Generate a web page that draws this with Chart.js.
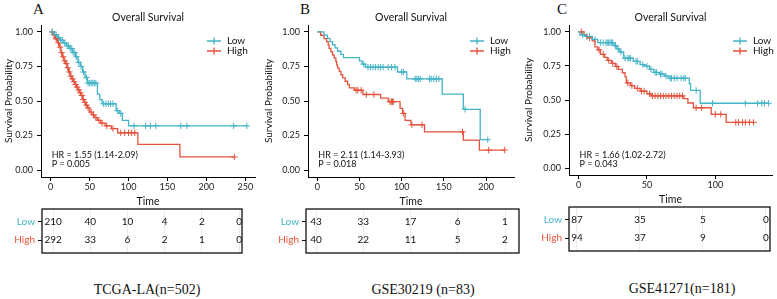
<!DOCTYPE html>
<html>
<head>
<meta charset="utf-8">
<script src="https://cdn.jsdelivr.net/npm/chart.js@4.4.1/dist/chart.umd.min.js"></script>
<style>
  body { margin: 0; background: #fff; width: 777px; height: 299px; position: relative; overflow: hidden; }
  canvas { position: absolute; }
  .tag { position: absolute; font-family: "Liberation Serif", serif; font-size: 15px; color: #111; line-height: 1; }
  .cap { position: absolute; font-family: "Liberation Serif", serif; font-size: 14px; color: #111; transform: translate(-50%, -50%); white-space: nowrap; }
</style>
</head>
<body>
<div class="tag" style="left:33px;top:2px">A</div>
<div class="tag" style="left:300px;top:2px">B</div>
<div class="tag" style="left:557px;top:2px">C</div>

<canvas id="tabA" style="left:0;top:200px" width="260" height="62"></canvas>
<canvas id="tabB" style="left:260px;top:200px" width="260" height="62"></canvas>
<canvas id="tabC" style="left:520px;top:198px" width="257" height="62"></canvas>
<canvas id="kmA" style="left:0;top:0" width="260" height="212"></canvas>
<canvas id="kmB" style="left:260px;top:0" width="260" height="212"></canvas>
<canvas id="kmC" style="left:520px;top:0" width="257" height="210"></canvas>

<div class="cap" style="left:147px;top:290px">TCGA-LA(n=502)</div>
<div class="cap" style="left:423px;top:290px">GSE30219 (n=83)</div>
<div class="cap" style="left:682px;top:289px">GSE41271(n=181)</div>

<script>
const groups = ['Low', 'High'];
const yTicks = [0, 0.25, 0.5, 0.75, 1];

// A - TCGA-LA
const xTicksA = [0, 50, 100, 150, 200, 250];
const timeLowA = [0, 4, 8, 12, 16, 20, 24, 28, 32, 35, 38, 41, 44, 47, 60, 63, 66, 84, 88, 92, 100];
const survLowA = [1.00, 0.98, 0.96, 0.94, 0.92, 0.90, 0.88, 0.85, 0.82, 0.78, 0.75, 0.71, 0.67, 0.63, 0.55, 0.51, 0.48, 0.43, 0.41, 0.36, 0.32];
const censLowA = [2, 5, 7, 10, 13, 15, 18, 21, 23, 25, 27, 29, 31, 33, 36, 39, 42, 46, 48, 50, 52, 54, 56, 58, 68, 71, 74, 77, 80, 86, 90, 107, 122, 128, 135, 167, 175, 235, 252];
const timeHighA = [0, 3, 6, 9, 11, 13, 15, 17, 19, 21, 23, 25, 27, 29, 31, 33, 35, 37, 39, 41, 43, 45, 47, 50, 53, 56, 60, 64, 70, 78, 86, 112, 166];
const survHighA = [1.00, 0.98, 0.95, 0.92, 0.89, 0.85, 0.82, 0.79, 0.77, 0.74, 0.71, 0.68, 0.66, 0.64, 0.62, 0.60, 0.58, 0.56, 0.54, 0.51, 0.49, 0.47, 0.45, 0.42, 0.40, 0.38, 0.36, 0.34, 0.32, 0.30, 0.27, 0.186, 0.095];
const censHighA = [2, 4, 5, 7, 8, 10, 12, 14, 16, 18, 20, 22, 24, 26, 28, 30, 32, 34, 36, 38, 40, 42, 44, 46, 48, 52, 55, 58, 62, 66, 72, 80, 90, 95, 100, 104, 108, 236];
const tableTimesA = [0, 50, 100, 150, 200, 250];
const riskLowA = [210, 40, 10, 4, 2, 0];
const riskHighA = [292, 33, 6, 2, 1, 0];

// B - GSE30219
const xTicksB = [0, 50, 100, 150, 200];
const timeLowB = [0, 8, 12, 15, 18, 21, 24, 28, 31, 50, 53, 57, 95, 106, 148, 173, 193];
const survLowB = [1.00, 0.977, 0.953, 0.930, 0.907, 0.884, 0.860, 0.837, 0.814, 0.79, 0.767, 0.745, 0.71, 0.66, 0.55, 0.44, 0.22];
const censLowB = [55, 60, 63, 66, 69, 72, 75, 78, 84, 88, 92, 100, 102, 116, 118, 120, 122, 133, 135, 138, 141, 144, 175, 202];
const timeHighB = [0, 4, 8, 11, 13, 14, 16, 18, 20, 22, 23, 24, 26, 28, 30, 33, 36, 38, 44, 54, 75, 84, 98, 101, 104, 111, 127, 173, 192];
const survHighB = [1.00, 0.976, 0.952, 0.929, 0.905, 0.881, 0.857, 0.833, 0.810, 0.786, 0.762, 0.738, 0.714, 0.690, 0.667, 0.643, 0.619, 0.595, 0.578, 0.547, 0.521, 0.495, 0.447, 0.41, 0.36, 0.328, 0.277, 0.217, 0.145];
const censHighB = [46, 48, 52, 58, 67, 86, 88, 89, 90, 102, 112, 124, 172, 203, 222];
const tableTimesB = [0, 50, 100, 150, 200];
const riskLowB = [43, 33, 17, 6, 1];
const riskHighB = [40, 22, 11, 5, 2];

// C - GSE41271
const xTicksC = [0, 50, 100];
const timeLowC = [0, 1, 5, 10, 14, 26, 28, 30, 33, 40, 45, 48, 52, 55, 59, 63, 66, 81, 82, 89];
const survLowC = [1.00, 0.978, 0.966, 0.944, 0.921, 0.898, 0.875, 0.852, 0.806, 0.783, 0.76, 0.748, 0.725, 0.702, 0.69, 0.675, 0.66, 0.62, 0.57, 0.476];
const censLowC = [3, 6, 8, 12, 16, 18, 20, 21, 22, 23, 24, 25, 27, 29, 31, 34, 36, 37, 38, 42, 43, 47, 50, 53, 56, 57, 60, 61, 64, 67, 68, 70, 72, 75, 77, 78, 86, 98, 122, 131, 134, 136, 139];
const timeHighC = [0, 4, 6, 10, 12, 14, 16, 19, 21, 24, 27, 29, 32, 34, 35, 38, 41, 45, 50, 53, 77, 80, 84, 97, 108];
const survHighC = [1.00, 0.978, 0.956, 0.934, 0.89, 0.868, 0.835, 0.813, 0.79, 0.768, 0.746, 0.724, 0.70, 0.67, 0.625, 0.605, 0.585, 0.565, 0.545, 0.53, 0.51, 0.478, 0.443, 0.395, 0.336];
const censHighC = [2, 8, 15, 18, 22, 25, 28, 36, 39, 43, 46, 48, 52, 54, 56, 58, 60, 62, 64, 66, 68, 70, 72, 74, 76, 86, 90, 100, 104, 115, 117, 120, 122, 125, 128];
const tableTimesC = [0, 50, 100, 150];
const riskLowC = [87, 35, 5, 0];
const riskHighC = [94, 37, 9, 0];

const colors = ['#45b4c8', '#e5533c'];
const FONT = 'Lato, "Open Sans", sans-serif';
Chart.defaults.font.family = FONT;

// survival value at time t from the step arrays
function survAt(times, surv, t) {
  let s = surv[0];
  for (let i = 0; i < times.length; i++) if (times[i] <= t) s = surv[i];
  return s;
}

function curveSet(times, surv, cens, color) {
  const pts = times.map((t, i) => ({ x: t, y: surv[i] }));
  pts.push({ x: Math.max(...cens), y: surv[surv.length - 1] });
  return { data: pts, showLine: true, stepped: 'before', borderColor: color, borderWidth: 1.3, pointRadius: 0, fill: false };
}
function censSet(times, surv, cens, color) {
  return {
    data: cens.map(t => ({ x: t, y: survAt(times, surv, t) })),
    showLine: false, pointStyle: 'cross', pointRadius: 3.2,
    pointBorderColor: color, pointBorderWidth: 1, pointBackgroundColor: color
  };
}

const kmText = {
  id: 'kmText',
  afterDraw(chart) {
    const o = chart.options.plugins.kmText;
    const ctx = chart.ctx, a = chart.chartArea, xs = chart.scales.x;
    ctx.save();
    ctx.textBaseline = 'middle';
    ctx.fillStyle = '#111';
    ctx.font = '10.5px ' + FONT;
    ctx.textAlign = 'center';
    ctx.fillText('Overall Survival', (a.left + a.right) / 2, 18);
    // legend
    ctx.textAlign = 'left';
    ctx.font = '10px ' + FONT;
    groups.forEach((g, i) => {
      const y = 41 + i * 10;
      ctx.strokeStyle = colors[i];
      ctx.lineWidth = 1.3;
      ctx.beginPath();
      ctx.moveTo(o.legX, y); ctx.lineTo(o.legX + 14, y);
      ctx.moveTo(o.legX + 7, y - 3.5); ctx.lineTo(o.legX + 7, y + 3.5);
      ctx.stroke();
      ctx.fillStyle = '#111';
      ctx.fillText(g, o.legX + 20, y);
    });
    // HR text
    ctx.font = '9px ' + FONT;
    const hx = xs.getPixelForValue(0) + 1;
    ctx.fillText(o.hr, hx, 155);
    ctx.fillText(o.p, hx, 164);
    ctx.restore();
  }
};

function kmChart(id, c) {
  new Chart(document.getElementById(id), {
    type: 'scatter',
    data: {
      datasets: [
        curveSet(c.tl, c.sl, c.cl, colors[0]),
        curveSet(c.th, c.sh, c.ch, colors[1]),
        censSet(c.tl, c.sl, c.cl, colors[0]),
        censSet(c.th, c.sh, c.ch, colors[1])
      ]
    },
    options: {
      responsive: false,
      animation: false,
      layout: { padding: { top: 25, right: c.padRight, left: 0, bottom: 0 } },
      plugins: {
        legend: { display: false },
        tooltip: { enabled: false },
        kmText: { legX: c.legX, hr: c.hr, p: c.p }
      },
      scales: {
        x: {
          type: 'linear', min: c.xmin, max: c.xmax,
          afterBuildTicks: s => { s.ticks = c.xTicks.map(v => ({ value: v })); },
          afterFit: s => { s.height = 35; },
          ticks: { color: '#222', font: { size: 9 }, padding: 1, maxRotation: 0 },
          grid: { drawOnChartArea: false, color: '#000', tickLength: 4 },
          border: { color: '#000', width: 1 },
          title: { display: true, text: 'Time', color: '#111', font: { size: 10.5 }, padding: { top: 0, bottom: 4 } }
        },
        y: {
          type: 'linear', min: -0.05, max: 1.05,
          afterBuildTicks: s => { s.ticks = yTicks.map(v => ({ value: v })); },
          afterFit: s => { s.width = c.yWidth; },
          ticks: { color: '#222', font: { size: 9 }, padding: 4, callback: v => v.toFixed(2) },
          grid: { drawOnChartArea: false, color: '#000', tickLength: 4 },
          border: { color: '#000', width: 1 },
          title: { display: true, text: 'Survival Probability', color: '#111', font: { size: 10 }, padding: { top: 3, bottom: 0 } }
        }
      }
    },
    plugins: [kmText]
  });
}

const tableText = {
  id: 'tableText',
  afterDraw(chart) {
    const ctx = chart.ctx, a = chart.chartArea;
    const xs = chart.scales.x, ys = chart.scales.y;
    ctx.save();
    ctx.font = '10px ' + FONT;
    ctx.fillStyle = '#111';
    ctx.textAlign = 'center';
    ctx.textBaseline = 'middle';
    chart.data.datasets.forEach(ds => {
      ds.data.forEach(p => ctx.fillText(String(p.n), xs.getPixelForValue(p.x), ys.getPixelForValue(p.y)));
    });
    ctx.strokeStyle = '#111';
    ctx.lineWidth = 1.3;
    ctx.strokeRect(a.left, a.top, a.right - a.left, a.bottom - a.top);
    ctx.restore();
  }
};

function tableChart(id, c) {
  new Chart(document.getElementById(id), {
    type: 'scatter',
    data: {
      datasets: [c.low, c.high].map((arr, gi) => ({
        data: c.times.map((t, i) => ({ x: t, y: gi, n: arr[i] })),
        pointRadius: 0
      }))
    },
    options: {
      responsive: false,
      animation: false,
      layout: { padding: { top: 7, right: c.padRight, left: 0, bottom: c.padBottom } },
      plugins: { legend: { display: false }, tooltip: { enabled: false } },
      scales: {
        x: {
          type: 'linear', min: c.xmin, max: c.xmax,
          afterBuildTicks: s => { s.ticks = c.times.map(v => ({ value: v })); },
          afterFit: s => { s.height = 0; },
          ticks: { display: false },
          grid: { color: '#ebebeb', drawTicks: false },
          border: { display: false }
        },
        y: {
          type: 'linear', min: -0.7, max: 1.7, reverse: true,
          afterBuildTicks: s => { s.ticks = [{ value: 0 }, { value: 1 }]; },
          afterFit: s => { s.width = c.yWidth; },
          ticks: {
            font: { size: 10 }, padding: 3,
            callback: v => groups[v],
            color: ctx => colors[ctx.tick ? ctx.tick.value : ctx.index]
          },
          grid: { drawOnChartArea: false, color: '#111', tickLength: 4 },
          border: { display: false }
        }
      }
    },
    plugins: [tableText]
  });
}

kmChart('kmA', { tl: timeLowA, sl: survLowA, cl: censLowA, th: timeHighA, sh: survHighA, ch: censHighA,
  xTicks: xTicksA, xmin: -12.5, xmax: 262.5, yWidth: 41, padRight: 3, legX: 207,
  hr: 'HR = 1.55 (1.14-2.09)', p: 'P = 0.005' });
kmChart('kmB', { tl: timeLowB, sl: survLowB, cl: censLowB, th: timeHighB, sh: survHighB, ch: censHighB,
  xTicks: xTicksB, xmin: -11, xmax: 233, yWidth: 48, padRight: 6, legX: 210,
  hr: 'HR = 2.11 (1.14-3.93)', p: 'P = 0.018' });
kmChart('kmC', { tl: timeLowC, sl: survLowC, cl: censLowC, th: timeHighC, sh: survHighC, ch: censHighC,
  xTicks: xTicksC, xmin: -7, xmax: 141.5, yWidth: 49, padRight: 0, legX: 213,
  hr: 'HR = 1.66 (1.02-2.72)', p: 'P = 0.043' });

tableChart('tabA', { times: tableTimesA, low: riskLowA, high: riskHighA, xmin: -15, xmax: 254, yWidth: 42, padRight: 18, padBottom: 4 });
tableChart('tabB', { times: tableTimesB, low: riskLowB, high: riskHighB, xmin: -10.6, xmax: 214.8, yWidth: 46, padRight: 1, padBottom: 4 });
tableChart('tabC', { times: tableTimesC, low: riskLowC, high: riskHighC, xmin: -6.3, xmax: 153.2, yWidth: 49, padRight: 7, padBottom: 3 });
</script>
</body>
</html>
